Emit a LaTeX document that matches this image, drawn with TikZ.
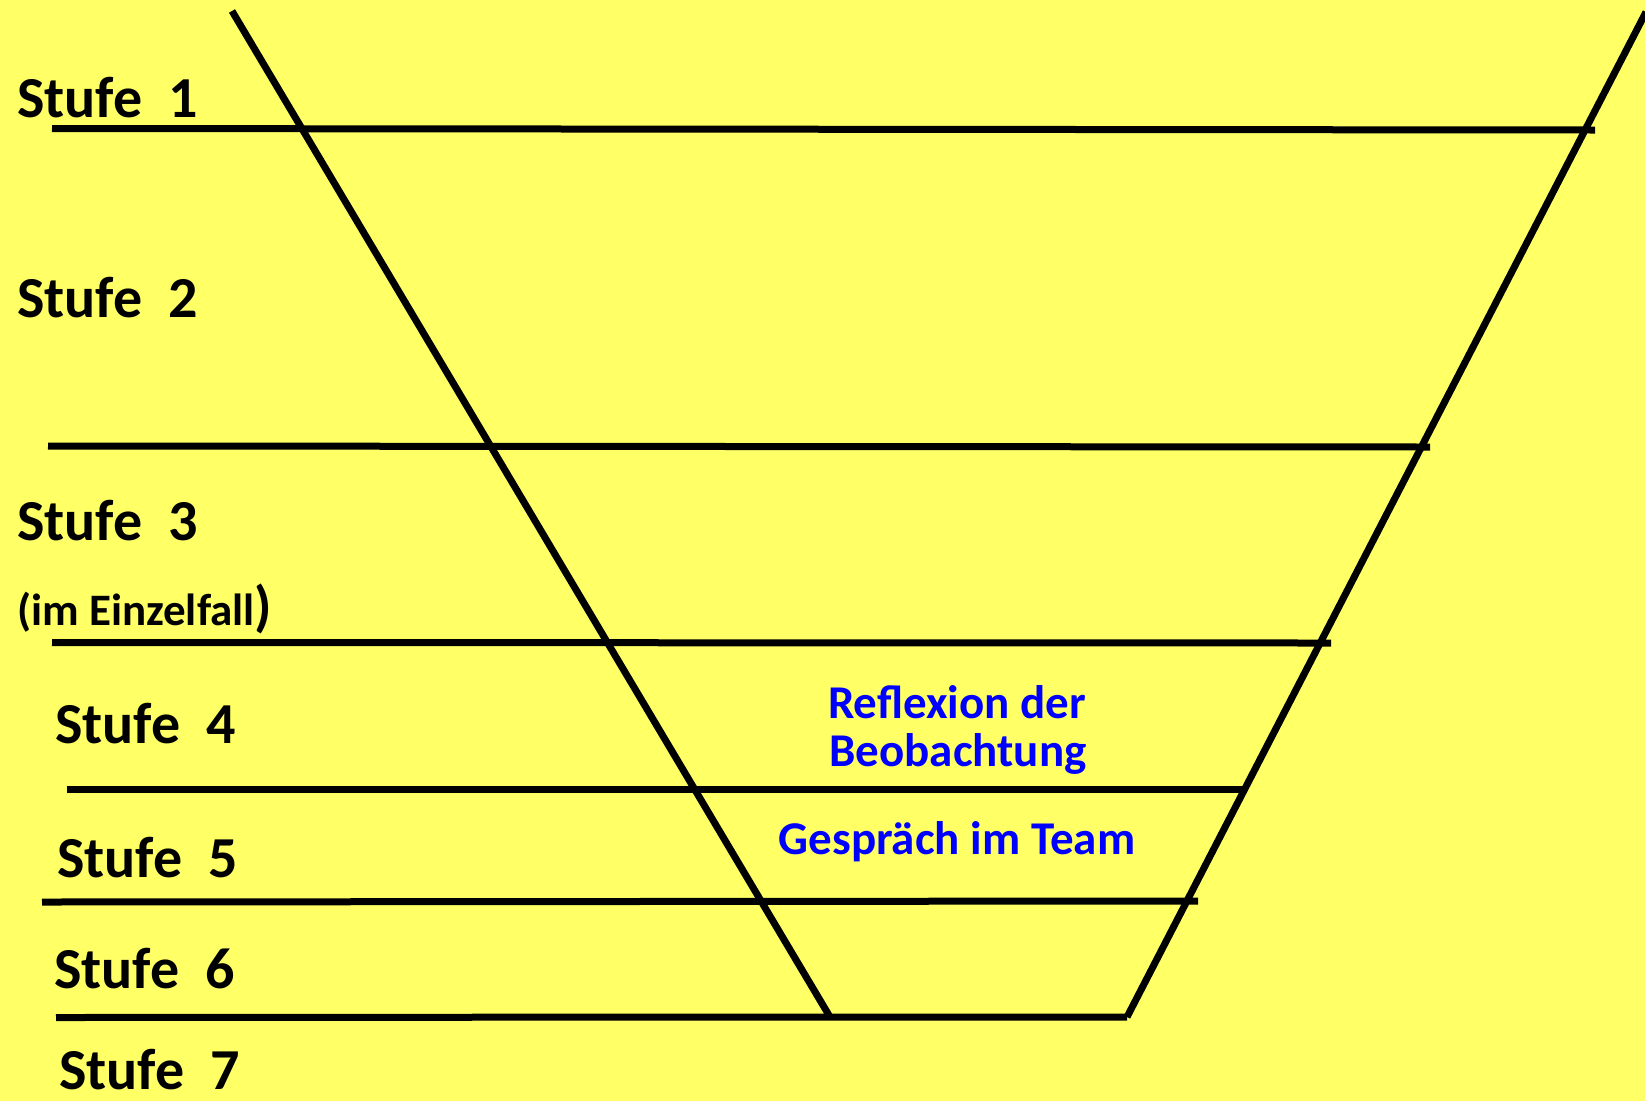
\documentclass[tikz,border=0pt]{standalone}
\usepackage{fontspec}
\setmainfont{Carlito}
\definecolor{bgyellow}{RGB}{255,255,102}
\definecolor{txtblue}{RGB}{0,0,255}
\begin{document}
\begin{tikzpicture}[x=1pt,y=-1pt,
  rule/.style={line width=7pt,black},
  stufelabel/.style={anchor=base west,inner sep=0pt,font=\bfseries\fontsize{58}{60}\selectfont},
  bluelabel/.style={anchor=base,inner sep=0pt,text=txtblue,font=\bfseries\fontsize{47}{50}\selectfont}]
\fill[bgyellow] (0,0) rectangle (1645,1101);
\useasboundingbox (0,0) rectangle (1645,1101);
% funnel sides
\coordinate (Ltop) at (232,11);
\coordinate (Lbot) at (830,1017);
\coordinate (Rtop) at (1646,12);
\coordinate (Rbot) at (1127,1017);
% horizontal rules
\coordinate (h1a) at (52,128.5);  \coordinate (h1b) at (1595,130);
\coordinate (h2a) at (48,446);    \coordinate (h2b) at (1430,447);
\coordinate (h3a) at (52,642.5);  \coordinate (h3b) at (1331,643);
\coordinate (h4a) at (67,789);    \coordinate (h4b) at (1246,789);
\coordinate (h5a) at (42,902);    \coordinate (h5b) at (1198,901);
\coordinate (h6a) at (56,1017.5);
\draw[rule] (h1a) -- (h1b);
\draw[rule] (h2a) -- (h2b);
\draw[rule] (h3a) -- (h3b);
\draw[rule] (h4a) -- (h4b);
\draw[rule] (h5a) -- (h5b);
\draw[rule] (h6a) -- (Lbot) -- (Rbot);
\draw[rule] (Ltop) -- (Lbot);
\draw[rule] (Rtop) -- (Rbot);
% labels
\node[stufelabel] (s1) at (17,117.5) {Stufe\ \ 1};
\node[stufelabel] (s2) at (17,317) {Stufe\ \ 2};
\node[stufelabel] (s3) at (17,540) {Stufe\ \ 3};
\node[anchor=base west,inner sep=0pt,font=\bfseries\fontsize{45}{48}\selectfont] (s3b) at (17,625) {(im Einzelfall{\fontsize{56}{56}\selectfont )}};
\node[stufelabel] (s4) at (55,743) {Stufe\ \ 4};
\node[stufelabel] (s5) at (57,877) {Stufe\ \ 5};
\node[stufelabel] (s6) at (54,988) {Stufe\ \ 6};
\node[stufelabel] (s7) at (59,1089) {Stufe\ \ 7};
\node[bluelabel] (refl) at (957,718) {Reflexion der};
\node[bluelabel] (beob) at (958,766) {Beobachtung};
\node[bluelabel] (gesp) at (957,854) {Gespräch im Team};
\end{tikzpicture}
\end{document}
